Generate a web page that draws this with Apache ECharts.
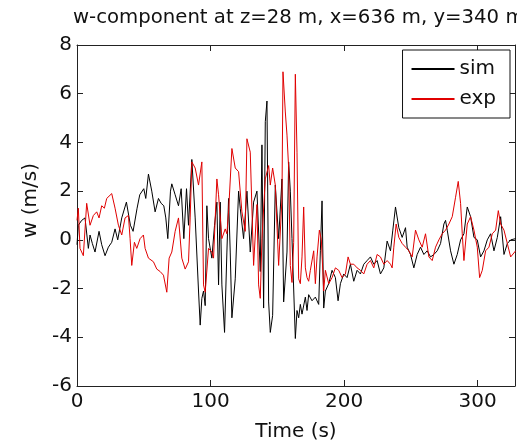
<!DOCTYPE html>
<html>
<head>
<meta charset="utf-8">
<script src="https://cdn.jsdelivr.net/npm/echarts@6/dist/echarts.min.js"></script>
<style>html,body{margin:0;padding:0;background:#fff;}#c{width:517px;height:448px;}</style>
</head>
<body>
<div id="c"></div>
<script>
const titleText = 'w-component at z=28 m, x=636 m, y=340 m';
const xTicks = [0, 100, 200, 300];
const yTicks = [-6, -4, -2, 0, 2, 4, 6, 8];
const seriesNames = ['sim', 'exp'];

const simTime = [0,1,3.5,6,8.5,9.75,11.5,13.5,16.5,18.5,21,23.5,26,28.5,30.5,33.5,37,40,42,45,47,50,51.5,53.5,56,58.5,61,63,65,66.5,68,70,71,73.5,76,78,80,82,83.5,86,88.5,91,92.25,93.5,94.75,96,97.25,98.5,101,103,104.75,106,107.25,108.5,110.5,112.25,113.5,114.75,116,118.5,121,122.25,124.75,127.25,129.75,132.25,134.75,137.25,138.5,139.75,141,142.25,143.5,144.75,146.5,148.5,151,153.5,154.75,157.25,158.5,159.75,161,163.5,164.75,166,167.25,168.5,171,172.25,173.5,176,178.5,181,182.25,183.5,184.75,186,188.5,191,193.5,195.5,197.25,199.75,202.25,204.75,207.25,209.75,212.25,214.75,217.25,219.75,222.25,224.75,227.25,229.75,232.25,234.75,236.5,238.5,241,243.5,246,247.25,249.75,252.25,254.75,257.25,259.75,262.25,264.75,267.25,269.75,272.25,274.75,276,277.25,279.75,282.25,284.75,287.25,289.75,292.25,294.75,297.25,299.75,302.25,304.75,307.25,309.75,312.25,314.75,317.25,319.75,322.25,324.75,328.5];
const simW = [-0.2,0.6,0.8,0.9,-0.35,0.2,-0.15,-0.5,0.35,-0.2,-0.65,-0.3,-0.1,0.45,0,0.9,1.55,0.6,0.35,1.3,1.85,2.1,1.7,2.7,2.0,1.15,1.7,1.5,1.4,0.9,0.05,2.0,2.3,1.85,1.4,2.1,0.05,2.1,0.6,3.3,0.9,-2.1,-3.5,-2.4,-2.1,-2.7,1.4,0.05,-0.75,0.6,1.55,-1.85,1.55,-1.85,-3.8,-0.5,1.7,-0.5,-3.2,-1.6,2.0,1.3,0.05,2.0,-0.5,1.55,2.0,-1.3,3.9,-2.8,4.85,5.7,-2.55,-3.8,-3.1,2.25,0.05,2.5,-2.55,-0.5,3.2,2.0,0.05,-4.05,-2.9,-3.2,-2.65,-3.05,-2.35,-2.9,-2.25,-2.5,-2.35,-2.65,-0.45,1.6,-2.8,-2.1,-1.8,-1.25,-1.55,-2.5,-1.8,-1.4,-1.55,-1.0,-1.7,-1.25,-1.4,-1.0,-0.85,-0.7,-1.0,-0.85,-1.4,-1.15,-0.05,-0.45,0.4,1.35,0.5,0.1,0.5,-0.3,-0.6,-1.15,-0.6,-0.3,-0.6,-0.45,-0.7,-0.6,-0.45,-0.15,0.65,0.8,0.4,-0.45,-1.0,-0.6,0,0.25,1.35,0.95,0.1,0,-0.7,-0.45,0,0.25,-0.45,0.1,0.95,-0.6,-0.15,0,0.05];

const expTime = [0,1,2.25,4.75,7.25,9.75,12.25,14.75,16.5,18.5,20.5,22.25,26,28.5,31,33.5,36,38.5,39.75,41,43,44.75,47.25,49.75,51,53.5,57.25,59.75,62.25,64.75,67.25,69,71,73.5,76,78.5,81,83.5,84.75,86,88.5,91,93.5,94.75,96,98.5,101,102.25,104.75,106,108.5,111,112.25,113.5,116,118.5,121,123.5,126,127.25,129.75,132.25,134.75,136,137.25,138.5,141,143.5,144.75,146.5,148.5,151,153.5,154.25,156,157.25,158.5,159.75,161,162.25,163.5,164.75,166,167.25,168.5,169.75,171,172.25,173.5,174.75,177.25,178.5,179.75,181.5,183,184.75,186,188.5,191,193.5,196,198.5,201,203,204.75,207.25,209.75,212.25,214.75,217.25,219.75,222.25,224.75,227.25,229.75,232.25,234.75,236,237.25,239,241,243.5,246,248.5,251,253.5,256,258.5,261,263.5,266,268.5,271,273.5,276,278.5,281,283.5,285.5,287.25,288.5,289.75,292.25,294.75,297.25,299.75,301.5,303.5,306,308.5,311,313.5,315.5,317.25,319.75,322.25,324.75,328.5];
const expW = [0.8,1.3,-0.35,-0.65,1.5,0.6,1.0,1.15,0.9,1.4,1.3,1.7,1.9,1.3,0.6,0.2,0.9,1.0,0.05,-1.05,-0.1,-0.35,0.05,0.2,-0.35,-0.75,-0.9,-1.2,-1.3,-1.45,-2.15,-0.75,-0.5,0.35,0.9,-0.75,-1.2,-0.9,0.9,3.2,2.95,2.25,3.2,-1.85,-2.15,-0.35,-0.5,-0.75,2.5,1.85,0.05,0.45,0.25,1.15,3.75,2.95,2.8,1.15,0.35,4.15,3.6,-1.05,1.45,-1.85,-2.4,0.05,2.5,3.05,2.25,2.95,2.25,-1.05,1.7,6.9,5.25,4.3,2.95,-1.05,-1.75,-0.1,6.8,3.6,-1.6,-1.8,-0.7,1.35,-1.15,-1.55,-1.7,-1.25,-0.45,-1.8,-0.7,0.4,0,-2.1,-1.25,-1.8,-1.55,-1.15,-1.25,-1.55,-1.4,-0.7,-1.0,-1.0,-1.15,-1.25,-1.4,-1.0,-0.85,-1.15,-0.6,-0.7,-1.0,-0.85,-1.0,-1.15,-0.3,0.65,0.1,-0.15,-0.3,-0.45,-0.7,0.4,0,-0.3,0.25,-0.7,-0.85,-0.3,0,0.25,0.4,0.65,0.95,1.75,2.4,1.5,0.25,-0.85,0.65,0.95,0.4,-0.3,-1.55,-1.25,-0.45,-0.3,0.25,0.4,1.2,0.65,0.4,-0.15,-0.7,-0.45];

const FONT = 'DejaVu Sans';
const AX = '#222';
const xMin = xTicks[0], xMax = 328, xStep = xTicks[1] - xTicks[0];
const yMin = yTicks[0], yMax = yTicks[yTicks.length - 1], yStep = yTicks[1] - yTicks[0];

function pairs(t, v) { return t.map((x, i) => [x, v[i]]); }

const chart = echarts.init(document.getElementById('c'), null, {renderer: 'canvas'});
const baseX = {type: 'value', min: xMin, max: xMax, interval: xStep, splitLine: {show: false},
  axisLine: {show: true, onZero: false, lineStyle: {color: AX, width: 1}},
  axisTick: {show: true, inside: true, length: 6, lineStyle: {color: AX}}};
const baseY = {type: 'value', min: yMin, max: yMax, interval: yStep, splitLine: {show: false},
  axisLine: {show: true, onZero: false, lineStyle: {color: AX, width: 1}},
  axisTick: {show: true, inside: true, length: 6, lineStyle: {color: AX}}};

chart.setOption({
  animation: false,
  backgroundColor: '#fff',
  title: {text: titleText, left: 73, top: 8, padding: 0,
    textStyle: {fontFamily: FONT, fontSize: 19.7, fontWeight: 'normal', color: '#111'}},
  grid: {left: 77, right: 2, top: 45, bottom: 62, containLabel: false},
  legend: {
    data: seriesNames, orient: 'vertical', right: 7, top: 50,
    backgroundColor: '#fff', borderColor: '#111', borderWidth: 1, borderRadius: 0,
    padding: [9, 14, 9, 8], itemGap: 10, itemWidth: 43, itemHeight: 18,
    itemStyle: {opacity: 0},
    textStyle: {fontFamily: FONT, fontSize: 20, color: '#111', lineHeight: 18}
  },
  xAxis: [
    Object.assign({}, baseX, {position: 'bottom', name: 'Time (s)', nameLocation: 'middle', nameGap: 36,
      nameTextStyle: {fontFamily: FONT, fontSize: 20, color: '#111'},
      axisLabel: {show: true, margin: 6, fontFamily: FONT, fontSize: 20, color: '#111', showMaxLabel: false}}),
    Object.assign({}, baseX, {position: 'top', axisLabel: {show: false}})
  ],
  yAxis: [
    Object.assign({}, baseY, {position: 'left', name: 'w (m/s)', nameLocation: 'middle', nameGap: 34,
      nameTextStyle: {fontFamily: FONT, fontSize: 20, color: '#111', padding: [0, 0, 0, 30]},
      axisLabel: {show: true, margin: 5, fontFamily: FONT, fontSize: 20, color: '#111'}}),
    Object.assign({}, baseY, {position: 'right', axisLabel: {show: false}})
  ],
  series: [
    {name: seriesNames[0], type: 'line', xAxisIndex: 0, yAxisIndex: 0, data: pairs(simTime, simW),
      symbol: 'none', lineStyle: {color: '#000', width: 1}, itemStyle: {color: '#000'}},
    {name: seriesNames[1], type: 'line', xAxisIndex: 0, yAxisIndex: 0, data: pairs(expTime, expW),
      symbol: 'none', lineStyle: {color: '#e00000', width: 1}, itemStyle: {color: '#e00000'}}
  ]
});
</script>
</body>
</html>
